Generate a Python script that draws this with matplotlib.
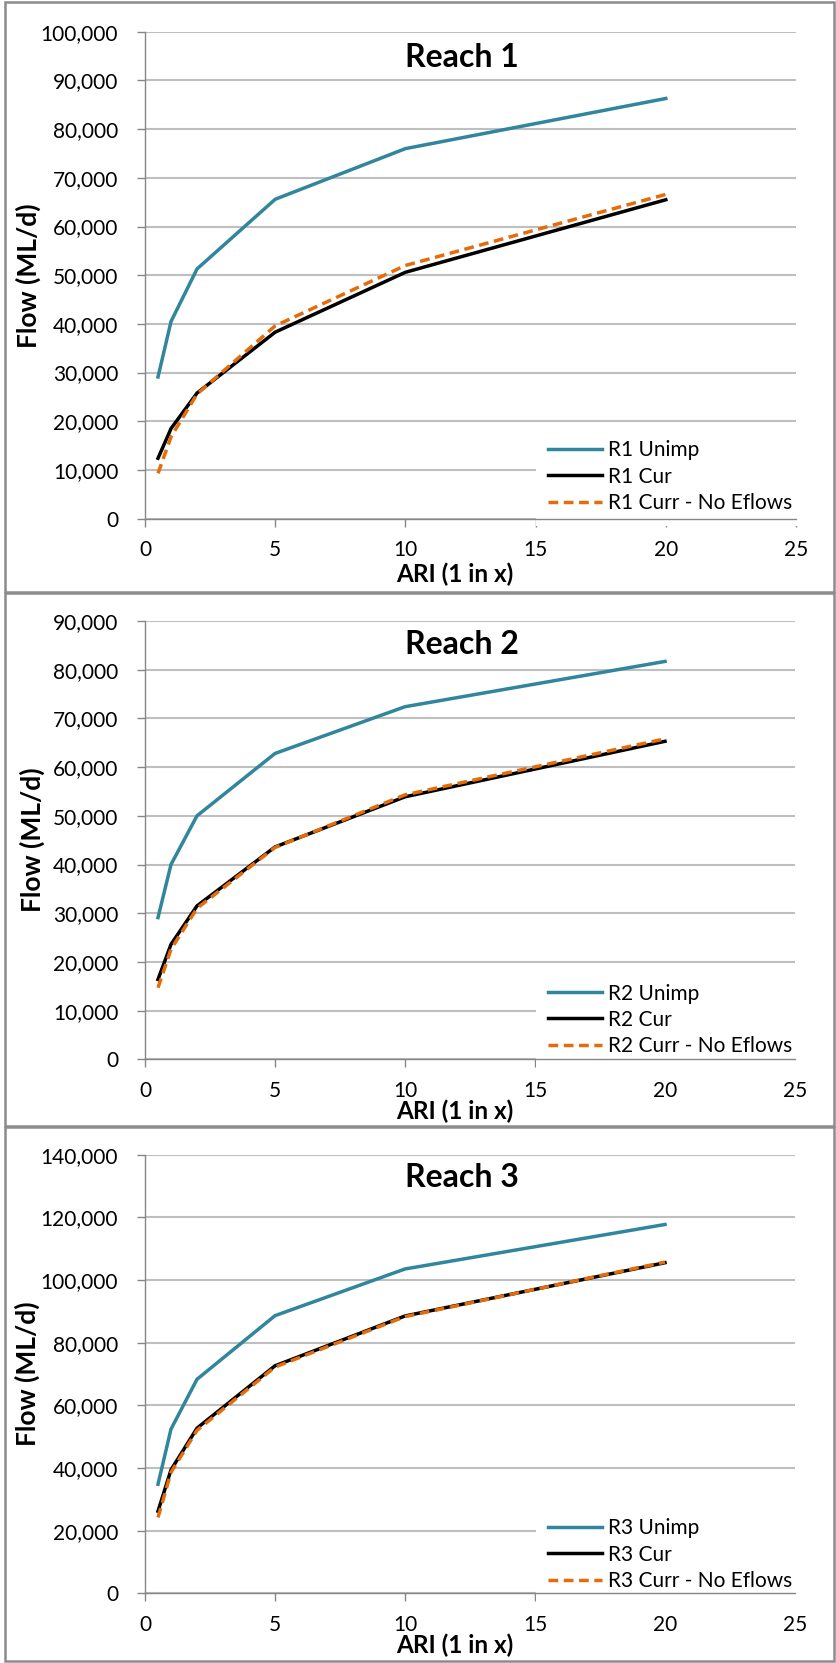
"""Flood frequency curves for three reaches: unimpaired, current, current without eflows"""
import matplotlib.pyplot as plt
from matplotlib.patches import Rectangle
from matplotlib.ticker import FuncFormatter, MultipleLocator

plt.rcParams['font.family'] = ['Lato', 'DejaVu Sans']

ari = [0.5, 1, 2, 5, 10, 20]

r1_unimp = [29100, 40500, 51300, 65600, 76000, 86300]
r1_cur = [12400, 18500, 25800, 38300, 50600, 65500]
r1_noeflows = [9300, 16800, 25600, 39600, 52000, 66600]

r2_unimp = [29100, 40000, 50000, 62800, 72400, 81700]
r2_cur = [16400, 23600, 31500, 43600, 53900, 65300]
r2_noeflows = [14700, 22600, 31000, 43500, 54300, 65800]

r3_unimp = [34800, 52400, 68300, 88600, 103500, 117700]
r3_cur = [26200, 39400, 52700, 72600, 88500, 105500]
r3_noeflows = [24200, 38600, 52000, 72200, 88300, 105700]

titles = ['Reach 1', 'Reach 2', 'Reach 3']
prefixes = ['R1', 'R2', 'R3']
y_max = [100000, 90000, 140000]
y_step = [10000, 10000, 20000]

TEAL = '#31859C'
ORANGE = '#E46C0A'
GRID = '#BFBFBF'
SPINE = '#868686'

W, H = 837, 1663
fig = plt.figure(figsize=(W / 100, H / 100), dpi=100)

# panel frames (top, bottom) and axes boxes in pixels
frames = [(2, 592), (593, 1126), (1127, 1661)]
axes_px = [(145, 796, 31.8, 518.6), (145, 795, 621, 1059.3), (145, 795, 1154.6, 1593.3)]
legend_top = [428, 971, 1506]
xlabel_base = [63, 59.5, 59.5]
ylabel_x = [28, 32, 27]

series = [(r1_unimp, r1_cur, r1_noeflows),
          (r2_unimp, r2_cur, r2_noeflows),
          (r3_unimp, r3_cur, r3_noeflows)]

for i in range(3):
    top, bot = frames[i]
    fig.patches.append(Rectangle((5 / W, 1 - bot / H), 829 / W, (bot - top) / H,
                                 transform=fig.transFigure, fill=False,
                                 edgecolor='#8C8C8C', linewidth=1.8))
    x0, x1, y0, y1 = axes_px[i]
    aw, ah = x1 - x0, y1 - y0
    ax = fig.add_axes([x0 / W, 1 - y1 / H, aw / W, ah / H])
    unimp, cur, noef = series[i]
    p = prefixes[i]
    ax.plot(ari, unimp, color=TEAL, lw=2.5, label=f'{p} Unimp', zorder=3)
    ax.plot(ari, cur, color='black', lw=2.5, label=f'{p} Cur', zorder=4)
    ax.plot(ari, noef, color=ORANGE, lw=2.5, ls=(0, (2.8, 1.6)),
            label=f'{p} Curr - No Eflows', zorder=5)

    ax.set_xlim(0, 25)
    ax.set_ylim(0, y_max[i])
    ax.xaxis.set_major_locator(MultipleLocator(5))
    ax.yaxis.set_major_locator(MultipleLocator(y_step[i]))
    ax.yaxis.set_major_formatter(FuncFormatter(lambda v, pos: f'{int(v):,}'))
    ax.grid(axis='y', color=GRID, lw=1.5, zorder=0)
    ax.set_axisbelow(True)
    for s in ['top', 'right']:
        ax.spines[s].set_visible(False)
    for s in ['left', 'bottom']:
        ax.spines[s].set_color(SPINE)
        ax.spines[s].set_linewidth(1.0)
    ax.tick_params(direction='out', length=5.8, width=1.0, color=SPINE,
                   labelsize=15, labelcolor='black')
    ax.tick_params(axis='y', pad=13.5)
    ax.tick_params(axis='x', pad=9.5)

    ax.set_xlabel('ARI (1 in x)', fontsize=17.5, fontweight='bold')
    ax.xaxis.label.set_va('baseline')
    ax.xaxis.set_label_coords((455 - x0) / aw, -xlabel_base[i] / ah)
    ax.set_ylabel('Flow (ML/d)', fontsize=19, fontweight='bold')
    ax.yaxis.label.set_va('center')
    ax.yaxis.set_label_coords((ylabel_x[i] - x0) / aw, 0.5)

    ax.text(0.487, 0.947, titles[i], transform=ax.transAxes, fontsize=23,
            fontweight='bold', ha='center', va='center')

    leg = ax.legend(loc='upper left',
                    bbox_to_anchor=((536 - x0) / aw, 1 - (legend_top[i] - y0) / ah),
                    fontsize=15, frameon=True, fancybox=False, edgecolor='none',
                    facecolor='white', framealpha=1, handlelength=2.55,
                    handletextpad=0.29, labelspacing=0.3, borderpad=0.6,
                    borderaxespad=0)
    # under the spines so the x axis stays visible, over the gridlines
    leg.set_zorder(2.4)

fig.savefig('out.png', dpi=100)
